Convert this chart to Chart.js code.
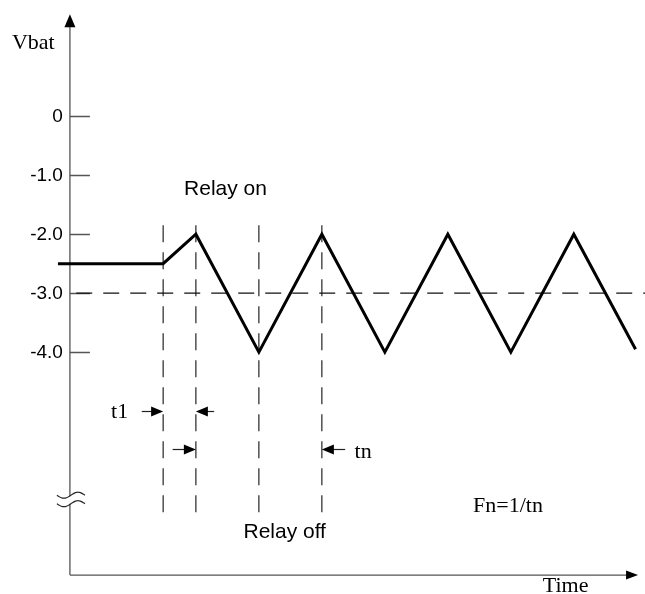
<!DOCTYPE html>
<html>
<head>
<meta charset="utf-8">
<script src="https://cdn.jsdelivr.net/npm/chart.js@4/dist/chart.umd.min.js"></script>
<style>
  html, body { margin: 0; padding: 0; background: #fff; }
  canvas { display: block; }
</style>
</head>
<body>
<canvas id="vbatChart" width="645" height="594"></canvas>
<script>
// waveform (time in half-periods, volts)
const timePoints = [-0.19, 1.48, 2, 3, 4, 5, 6, 7, 8, 8.98];
const vbatValues = [-2.5, -2.5, -2, -4, -2, -4, -2, -4, -2, -3.95];

// y axis ticks
const tickValues = [0, -1, -2, -3, -4];
const tickLabels = ['0', '-1.0', '-2.0', '-3.0', '-4.0'];

// dashed markers
const markerTimes = [1.48, 2, 3, 4];
const markerSpan = [-1.85, -6.8];
const referenceLevel = -3;

// dimension arrows: tail time, tip time, level
const arrowTails = [1.14, 2.29, 1.63, 4.37];
const arrowTips = [1.48, 2, 2, 4];
const arrowLevels = [-5.0, -5.0, -5.65, -5.65];

// free text
const noteTexts = ['Relay on', 'Relay off', 't1', 'tn', 'Fn=1/tn', 'Time', 'Vbat'];
const noteTimes = [2.47, 3.41, 0.79, 4.52, 6.4, 7.87, -0.92];
const noteLevels = [-1.34, -7.15, -5.12, -5.8, -6.71, -8.07, 1.14];

const SANS = '"Liberation Sans", Arial, sans-serif';
const SERIF = '"Liberation Serif", "Times New Roman", serif';
const noteFonts = ['21px ' + SANS, '21px ' + SANS, '22px ' + SERIF, '22px ' + SERIF,
                   '22px ' + SERIF, '22px ' + SERIF, '22px ' + SERIF];
const noteAlign = ['center', 'center', 'center', 'left', 'left', 'center', 'left'];

const axisTop = 1.73;
const axisBottom = -7.78;
const axisRight = 9.02;
const breakLevel = -6.51;

function toPoints(xs, ys) {
  return xs.map((x, i) => ({ x: x, y: ys[i] }));
}

const datasets = [{
  data: toPoints(timePoints, vbatValues),
  borderColor: '#000',
  borderWidth: 3,
  borderJoinStyle: 'miter',
  pointRadius: 0,
  tension: 0
}];

markerTimes.forEach((t) => {
  datasets.push({
    data: [{ x: t, y: markerSpan[0] }, { x: t, y: markerSpan[1] }],
    borderColor: '#111',
    borderWidth: 1.1,
    borderDash: [17, 10],
    pointRadius: 0
  });
});

datasets.push({
  data: [{ x: 0.1, y: referenceLevel }, { x: 9.13, y: referenceLevel }],
  borderColor: '#111',
  borderWidth: 1.1,
  borderDash: [16, 11],
  pointRadius: 0
});

function arrowHead(ctx, tipX, tipY, dx, dy, len, half) {
  // dx, dy: unit direction the arrow points to
  ctx.beginPath();
  ctx.moveTo(tipX, tipY);
  ctx.lineTo(tipX - dx * len - dy * half, tipY - dy * len + dx * half);
  ctx.lineTo(tipX - dx * len + dy * half, tipY - dy * len - dx * half);
  ctx.closePath();
  ctx.fill();
}

const diagramPlugin = {
  id: 'diagram',
  beforeDatasetsDraw(chart) {
    const ctx = chart.ctx;
    const xs = chart.scales.x;
    const ys = chart.scales.y;
    const x0 = xs.getPixelForValue(0);
    const yTop = ys.getPixelForValue(axisTop);
    const yBottom = ys.getPixelForValue(axisBottom);
    const yBreak = ys.getPixelForValue(breakLevel);

    ctx.save();
    ctx.strokeStyle = '#555';
    ctx.lineWidth = 1.3;

    // y axis, broken at the squiggle
    ctx.beginPath();
    ctx.moveTo(x0, yTop + 10);
    ctx.lineTo(x0, yBreak - 4.5);
    ctx.moveTo(x0, yBreak + 4);
    ctx.lineTo(x0, yBottom);
    // x axis
    const xEnd = xs.getPixelForValue(axisRight);
    ctx.moveTo(x0, yBottom);
    ctx.lineTo(xEnd - 10, yBottom);
    ctx.stroke();

    // ticks
    ctx.beginPath();
    tickValues.forEach((v) => {
      const y = Math.round(ys.getPixelForValue(v)) + 0.5;
      ctx.moveTo(x0, y);
      ctx.lineTo(x0 + 20, y);
    });
    ctx.stroke();

    // break squiggle
    ctx.strokeStyle = '#222';
    ctx.lineWidth = 1.2;
    [yBreak - 5, yBreak + 3.5].forEach((c) => {
      ctx.beginPath();
      for (let px = -13; px <= 15; px += 0.5) {
        const y = c + 3 * Math.sin(2 * Math.PI * (px + 13) / 28);
        if (px === -13) ctx.moveTo(x0 + px, y); else ctx.lineTo(x0 + px, y);
      }
      ctx.stroke();
    });

    // arrowheads of the axes
    ctx.fillStyle = '#000';
    arrowHead(ctx, x0, yTop, 0, -1, 13, 5.5);
    arrowHead(ctx, xEnd, yBottom, 1, 0, 12, 4.5);

    // tick labels
    ctx.font = '19px ' + SANS;
    ctx.textAlign = 'right';
    ctx.textBaseline = 'middle';
    tickValues.forEach((v, i) => {
      ctx.fillText(tickLabels[i], x0 - 7, ys.getPixelForValue(v) + 1);
    });
    ctx.restore();
  },
  afterDatasetsDraw(chart) {
    const ctx = chart.ctx;
    const xs = chart.scales.x;
    const ys = chart.scales.y;
    ctx.save();

    // dimension arrows
    ctx.strokeStyle = '#222';
    ctx.fillStyle = '#000';
    ctx.lineWidth = 1.2;
    arrowTips.forEach((tip, i) => {
      const tipX = xs.getPixelForValue(tip);
      const tailX = xs.getPixelForValue(arrowTails[i]);
      const y = Math.round(ys.getPixelForValue(arrowLevels[i])) + 0.5;
      const dir = tipX > tailX ? 1 : -1;
      ctx.beginPath();
      ctx.moveTo(tailX, y);
      ctx.lineTo(tipX - dir * 6, y);
      ctx.stroke();
      arrowHead(ctx, tipX, y, dir, 0, 12, 5);
    });

    // texts
    ctx.fillStyle = '#000';
    ctx.textBaseline = 'alphabetic';
    noteTexts.forEach((txt, i) => {
      ctx.font = noteFonts[i];
      ctx.textAlign = noteAlign[i];
      ctx.fillText(txt, xs.getPixelForValue(noteTimes[i]), ys.getPixelForValue(noteLevels[i]));
    });
    ctx.restore();
  }
};

new Chart(document.getElementById('vbatChart'), {
  type: 'line',
  data: { datasets: datasets },
  options: {
    responsive: false,
    devicePixelRatio: 1,
    animation: false,
    layout: { padding: 0 },
    plugins: {
      legend: { display: false },
      tooltip: { enabled: false }
    },
    scales: {
      x: { type: 'linear', display: false, min: -1.11, max: 9.13 },
      y: { type: 'linear', display: false, min: -8.1, max: 1.97 }
    }
  },
  plugins: [diagramPlugin]
});
</script>
</body>
</html>
